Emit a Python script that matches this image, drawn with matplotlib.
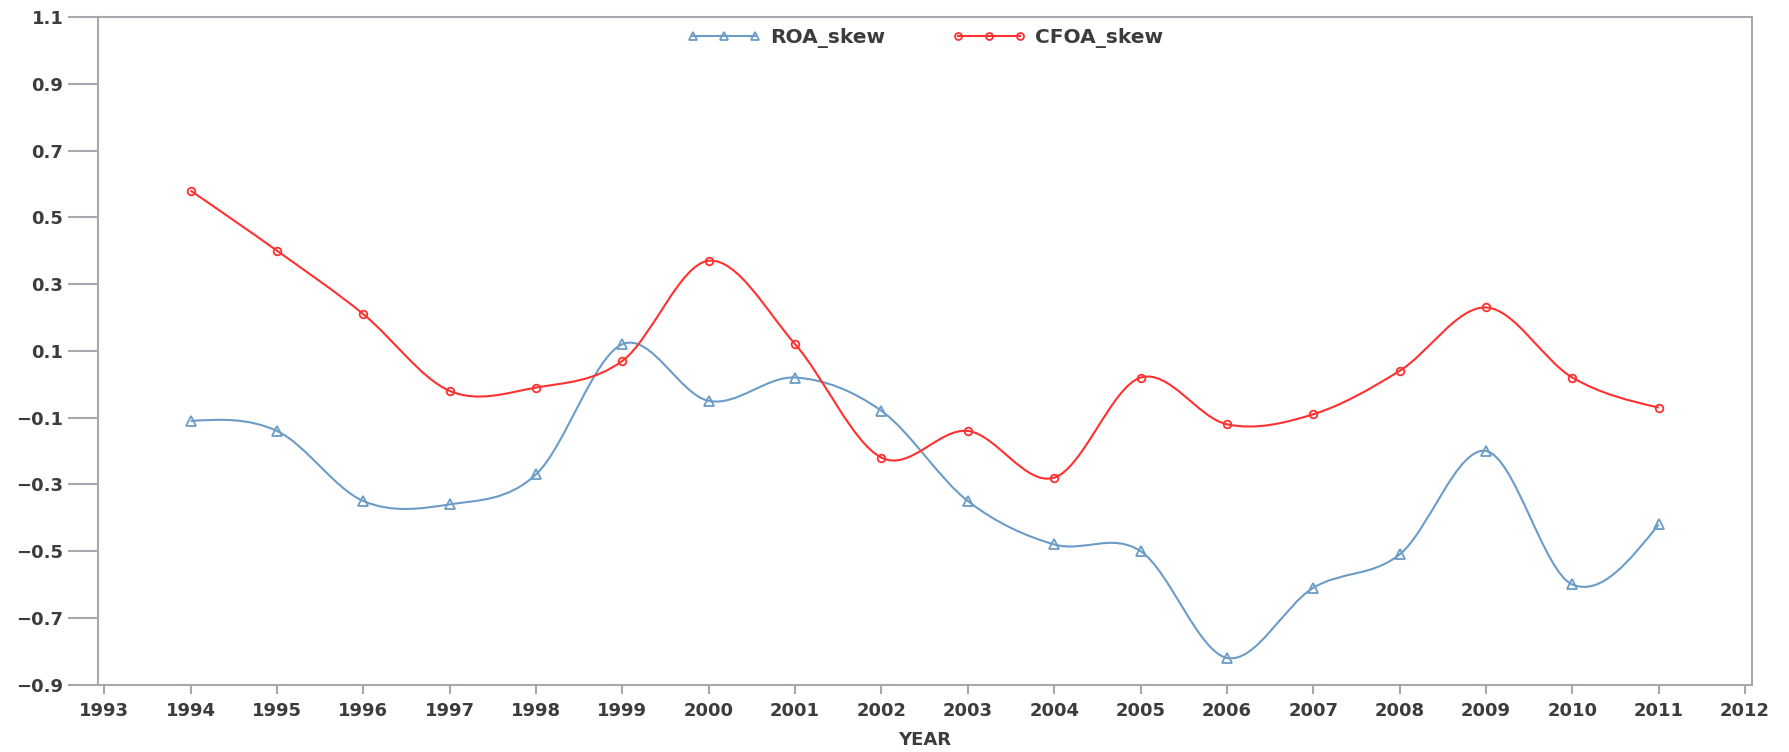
import numpy as np
import matplotlib
matplotlib.use("Agg")
import matplotlib.pyplot as plt
from matplotlib.path import Path
from matplotlib.patches import PathPatch
from matplotlib.lines import Line2D

years = [1994, 1995, 1996, 1997, 1998, 1999, 2000, 2001, 2002,
         2003, 2004, 2005, 2006, 2007, 2008, 2009, 2010, 2011]
roa_skew = [-0.11, -0.14, -0.35, -0.36, -0.27, 0.12, -0.05, 0.02, -0.08,
            -0.35, -0.48, -0.50, -0.82, -0.61, -0.51, -0.20, -0.60, -0.42]
cfoa_skew = [0.58, 0.40, 0.21, -0.02, -0.01, 0.07, 0.37, 0.12, -0.22,
             -0.14, -0.28, 0.02, -0.12, -0.09, 0.04, 0.23, 0.02, -0.07]
year_ticks = list(range(1993, 2013))
value_ticks = [-0.9, -0.7, -0.5, -0.3, -0.1, 0.1, 0.3, 0.5, 0.7, 0.9, 1.1]

BLUE = "#6b9cc8"
RED = "#ff3030"
GREY = "#a5a8ad"
TEXT = "#3c3c3c"

plt.rcParams["font.family"] = ["DejaVu Sans"]
plt.rcParams["font.weight"] = "bold"


def smooth_path(x, y):
    # cubic bezier segments through the points (cardinal spline tangents)
    x = np.asarray(x, float)
    y = np.asarray(y, float)
    n = len(x)
    m = np.zeros(n)
    m[1:-1] = (y[2:] - y[:-2]) / (x[2:] - x[:-2])
    m[0] = (3 * (y[1] - y[0]) / (x[1] - x[0]) - m[1]) / 2
    m[-1] = (3 * (y[-1] - y[-2]) / (x[-1] - x[-2]) - m[-2]) / 2
    verts = [(x[0], y[0])]
    codes = [Path.MOVETO]
    for i in range(n - 1):
        h = (x[i + 1] - x[i]) / 3
        verts += [(x[i] + h, y[i] + m[i] * h),
                  (x[i + 1] - h, y[i + 1] - m[i + 1] * h),
                  (x[i + 1], y[i + 1])]
        codes += [Path.CURVE4] * 3
    return Path(verts, codes)


fig = plt.figure(figsize=(17.89, 7.52), dpi=100)
ax = fig.add_axes([0.0549, 0.0896, 0.9244, 0.8877])

ax.add_patch(PathPatch(smooth_path(years, roa_skew), fill=False,
                       edgecolor=BLUE, lw=1.5))
ax.add_patch(PathPatch(smooth_path(years, cfoa_skew), fill=False,
                       edgecolor=RED, lw=1.5))
ax.plot(years, roa_skew, ls="none", marker="^", ms=6.5, mfc="none",
        mec=BLUE, mew=1.3)
ax.plot(years, cfoa_skew, ls="none", marker="o", ms=5.5, mfc="none",
        mec=RED, mew=1.3)

ax.set_xlim(1992.93, 2012.08)
ax.set_ylim(-0.9, 1.1)
ax.set_xticks(year_ticks)
ax.set_yticks(value_ticks)
ax.set_yticklabels([("%.1f" % v).replace("-", "\u2212") for v in value_ticks])

for side in ["left", "right", "top", "bottom"]:
    ax.spines[side].set_color(GREY)
    ax.spines[side].set_linewidth(1.5)

ax.tick_params(axis="y", direction="out", length=21.5, width=1.5,
               color=GREY, labelsize=13, labelcolor=TEXT, pad=3.5)
ax.tick_params(axis="x", direction="out", length=6.5, width=1.5,
               color=GREY, labelsize=13, labelcolor=TEXT, pad=6)
ax.set_xlabel("YEAR", fontsize=13, fontweight="bold", color=TEXT,
              labelpad=8)

handles = [
    Line2D([], [], color=BLUE, lw=1.5, marker="^", ms=6, mfc="none",
           mec=BLUE, mew=1.3),
    Line2D([], [], color=RED, lw=1.5, marker="o", ms=5, mfc="none",
           mec=RED, mew=1.3),
]
leg = ax.legend(handles, ["ROA_skew", "CFOA_skew"], loc="upper center",
                bbox_to_anchor=(0.5, 1.0), ncol=2, frameon=False,
                numpoints=3, handlelength=3.7, handletextpad=0.45,
                columnspacing=3.3, fontsize=14.5, borderaxespad=0.15)
for t in leg.get_texts():
    t.set_color(TEXT)

fig.savefig("out.png", dpi=100)
